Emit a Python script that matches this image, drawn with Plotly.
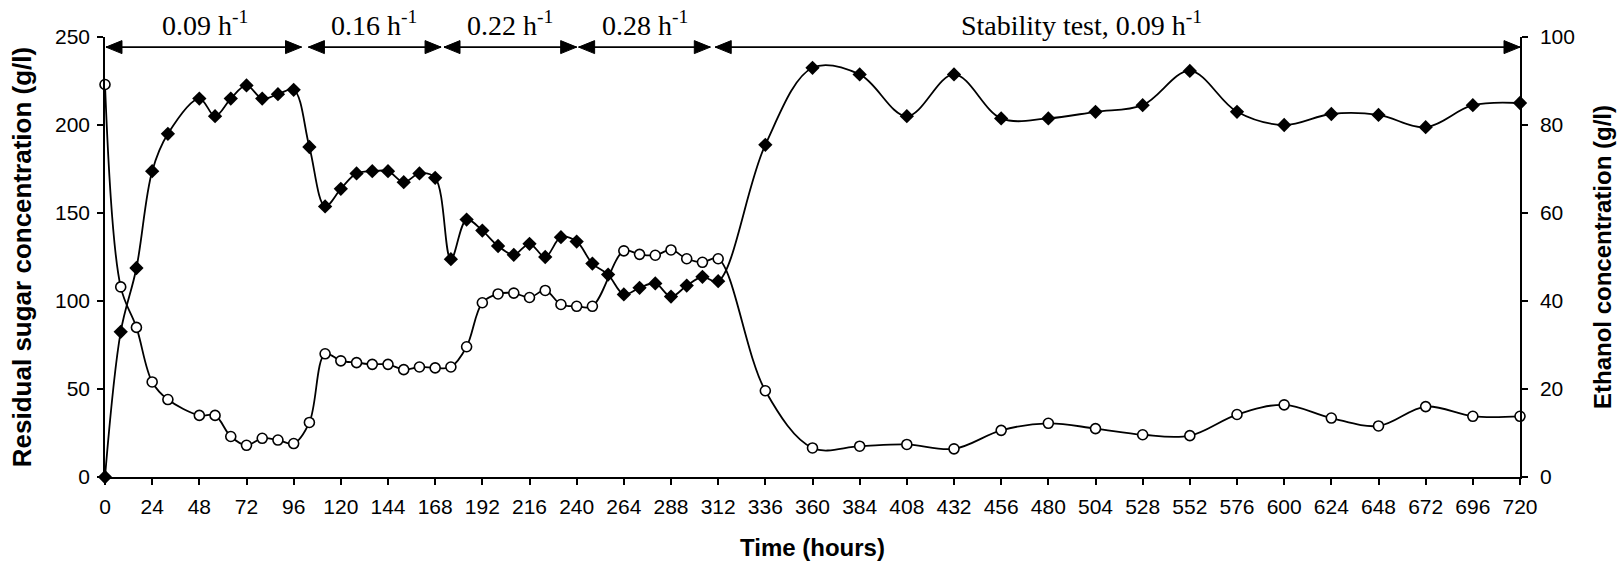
import plotly.graph_objects as go

# Residual sugar (left axis, g/l)
sugar_hours = [0, 8, 16, 24, 32, 48, 56, 64, 72, 80, 88, 96, 104, 112, 120, 128, 136,
               144, 152, 160, 168, 176, 184, 192, 200, 208, 216, 224, 232, 240, 248,
               264, 272, 280, 288, 296, 304, 312, 336, 360, 384, 408, 432, 456, 480,
               504, 528, 552, 576, 600, 624, 648, 672, 696, 720]
sugar_gl = [223, 108, 85, 54, 44, 35, 35, 23, 18, 22, 21, 19, 31, 70, 66, 65, 64,
            64, 61, 62.5, 62, 62.5, 74, 99, 104, 104.5, 102, 106, 98, 97, 97,
            128.5, 126.5, 126, 129, 124, 122, 124, 49, 16.5, 17.5, 18.5, 16, 26.5, 30.5,
            27.5, 24, 23.5, 35.5, 41, 33.5, 29, 40, 34.5, 34.5]

# Ethanol (right axis, g/l)
ethanol_hours = [0, 8, 16, 24, 32, 48, 56, 64, 72, 80, 88, 96, 104, 112, 120, 128, 136,
                 144, 152, 160, 168, 176, 184, 192, 200, 208, 216, 224, 232, 240, 248,
                 256, 264, 272, 280, 288, 296, 304, 312, 336, 360, 384, 408, 432, 456,
                 480, 504, 528, 552, 576, 600, 624, 648, 672, 696, 720]
ethanol_gl = [0, 33, 47.5, 69.5, 78, 86, 82, 86, 89, 86, 87, 88, 75, 61.5, 65.5, 69, 69.5,
              69.5, 67, 69, 68, 49.5, 58.5, 56, 52.5, 50.5, 53, 50, 54.5, 53.5, 48.5,
              46, 41.5, 43, 44, 41, 43.5, 45.5, 44.5, 75.5, 93, 91.5, 82, 91.5, 81.5,
              81.5, 83, 84.5, 92.3, 83, 80, 82.5, 82.3, 79.5, 84.5, 85]

# Dilution-rate phases: start h, end h, label centre h, label
phase_start = [0.5, 103.5, 172.5, 241, 310.5]
phase_end = [100, 171, 240, 308, 720]
phase_label_x = [51, 137, 206, 275, 497]
phase_label = ["0.09 h<sup>-1</sup>", "0.16 h<sup>-1</sup>", "0.22 h<sup>-1</sup>",
               "0.28 h<sup>-1</sup>", "Stability test, 0.09 h<sup>-1</sup>"]

hour_ticks = list(range(0, 721, 24))

SANS = "Liberation Sans, Arial, sans-serif"
SERIF = "Liberation Serif, Times New Roman, serif"

ARROW_Y = 0.977      # height of the phase arrows, as a fraction of the plot
HEAD_LEN, HEAD_HALF = 16, 6.5   # arrowhead size in pixels

fig = go.Figure()
fig.add_trace(go.Scatter(
    x=sugar_hours, y=sugar_gl, mode="lines+markers", name="Residual sugar",
    line=dict(color="black", width=1.8, shape="spline", smoothing=1.0),
    marker=dict(symbol="circle", size=10, color="white",
                line=dict(color="black", width=1.6)),
    cliponaxis=False, yaxis="y"))
fig.add_trace(go.Scatter(
    x=ethanol_hours, y=ethanol_gl, mode="lines+markers", name="Ethanol",
    line=dict(color="black", width=1.8, shape="spline", smoothing=1.0),
    marker=dict(symbol="diamond", size=11, color="black"),
    cliponaxis=False, yaxis="y2"))

shapes = []
annotations = []
for s, e, lx, lab in zip(phase_start, phase_end, phase_label_x, phase_label):
    # double-headed arrow spanning the phase
    shapes.append(dict(type="line", xref="x", yref="paper", x0=s, x1=e,
                       y0=ARROW_Y, y1=ARROW_Y, line=dict(color="black", width=1.6)))
    for anchor, sign in ((s, 1), (e, -1)):
        shapes.append(dict(
            type="path", xref="x", yref="paper",
            xsizemode="pixel", ysizemode="pixel", xanchor=anchor, yanchor=ARROW_Y,
            path=f"M0,0 L{sign * HEAD_LEN},{-HEAD_HALF} L{sign * HEAD_LEN},{HEAD_HALF} Z",
            fillcolor="black", line=dict(color="black", width=1)))
    annotations.append(dict(
        x=lx, y=1.03, xref="x", yref="paper", text=lab, showarrow=False,
        xanchor="center", yanchor="middle",
        font=dict(family=SERIF, size=28, color="black")))

axis_common = dict(showgrid=False, zeroline=False, showline=True, linecolor="black",
                   linewidth=1.5, ticks="outside", ticklen=6, tickwidth=1.5,
                   tickcolor="black", tickfont=dict(family=SANS, size=21, color="black"))

fig.update_layout(
    width=1624, height=569,
    margin=dict(l=105, r=97, t=37, b=92),
    paper_bgcolor="white", plot_bgcolor="white",
    showlegend=False,
    shapes=shapes,
    annotations=annotations,
    xaxis=dict(range=[0, 720], tickvals=hour_ticks, ticklabelstandoff=4,
               title=dict(text="<b>Time (hours)</b>", standoff=22,
                          font=dict(family=SANS, size=24, color="black")),
               **axis_common),
    yaxis=dict(range=[0, 250], tickvals=[0, 50, 100, 150, 200, 250], ticklabelstandoff=3,
               title=dict(text="<b>Residual sugar concentration (g/l)</b>", standoff=16,
                          font=dict(family=SANS, size=26, color="black")),
               **axis_common),
    yaxis2=dict(range=[0, 100], tickvals=[0, 20, 40, 60, 80, 100],
                overlaying="y", side="right", anchor="x", ticklabelstandoff=8,
                title=dict(text="<b>Ethanol concentration (g/l)</b>", standoff=20,
                           font=dict(family=SANS, size=24, color="black")),
                **axis_common),
)

fig.write_html("out.html")
